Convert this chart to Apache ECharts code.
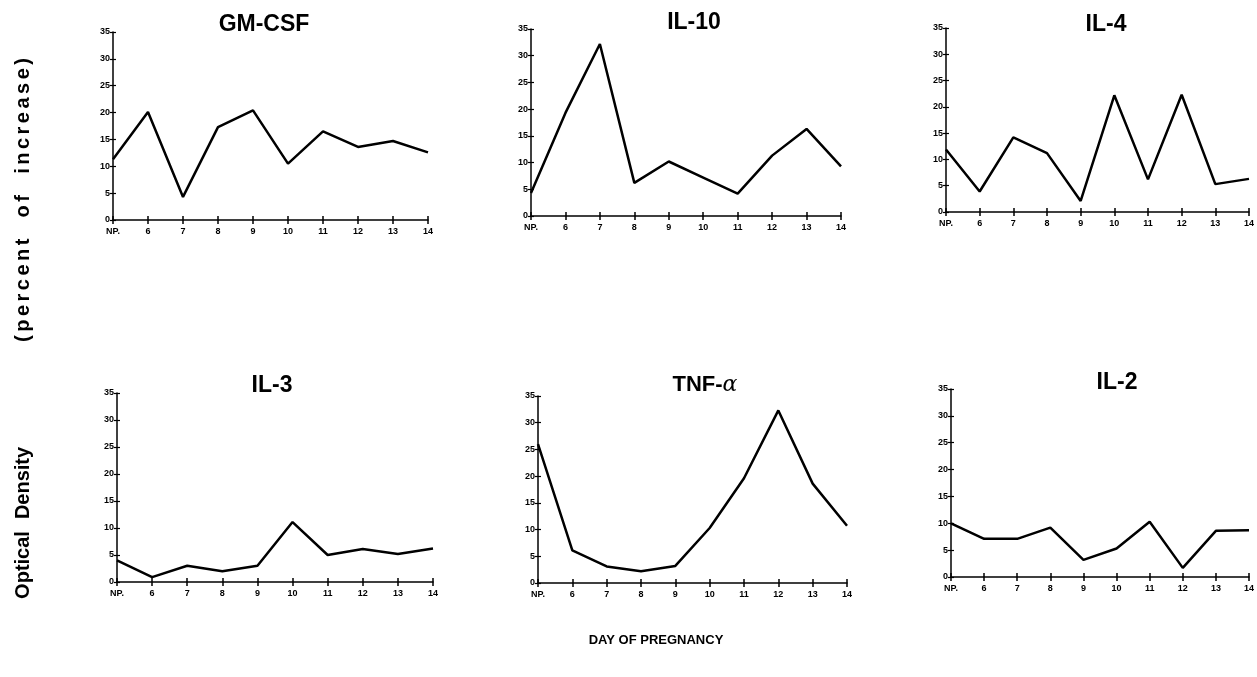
<!DOCTYPE html>
<html>
<head>
<meta charset="utf-8">
<script src="https://cdn.jsdelivr.net/npm/echarts@6/dist/echarts.min.js"></script>
<style>
html,body{margin:0;padding:0;background:#fff;}
#chart{width:1257px;height:677px;}
</style>
</head>
<body>
<div id="chart"></div>
<script>
// ---- data ----
const days = ['NP.', '6', '7', '8', '9', '10', '11', '12', '13', '14'];
const yTicks = [0, 5, 10, 15, 20, 25, 30, 35];
const panelTitles = ['GM-CSF', 'IL-10', 'IL-4', 'IL-3', 'TNF-α', 'IL-2'];
const gmcsf = [11.3, 20.1, 4.3, 17.3, 20.4, 10.5, 16.5, 13.6, 14.7, 12.6];
const il10  = [4.3, 19.3, 32.2, 6.2, 10.2, 7.2, 4.2, 11.3, 16.3, 9.3];
const il4   = [11.9, 3.9, 14.2, 11.2, 2.1, 22.2, 6.2, 22.3, 5.3, 6.3];
const il3   = [4.0, 0.9, 3.0, 2.0, 3.0, 11.1, 5.0, 6.1, 5.2, 6.2];
const tnf   = [26.0, 6.1, 3.1, 2.2, 3.2, 10.3, 19.6, 32.3, 18.6, 10.7];
const il2   = [10.0, 7.1, 7.1, 9.2, 3.2, 5.3, 10.3, 1.7, 8.6, 8.7];
const seriesData = [gmcsf, il10, il4, il3, tnf, il2];
const yTitleWords = ['Optical', 'Density', '(percent of increase)'];
const xTitle = 'DAY OF PREGNANCY';

// ---- layout ----
const grids = [
  {left: 113, top: 32, width: 315, height: 188},
  {left: 531, top: 29, width: 310, height: 187},
  {left: 946, top: 28, width: 306, height: 184},
  {left: 117, top: 393, width: 316, height: 189},
  {left: 538, top: 396, width: 309, height: 187},
  {left: 951, top: 389, width: 304, height: 188}
];
const titlePos = [[264, 25], [694, 23], [1106, 25], [272, 386], [705, 385], [1117, 383]];

const FONT = '"Liberation Sans", Arial, sans-serif';
const tickLabel = {fontFamily: FONT, fontWeight: 'bold', fontSize: 9, color: '#000'};

const xAxes = [], yAxes = [], series = [];
grids.forEach((g, i) => {
  const yMin = yTicks[0], yMax = yTicks[yTicks.length - 1], yInt = yTicks[1] - yTicks[0];
  xAxes.push({
    gridIndex: i, type: 'category', data: days, boundaryGap: false,
    axisLine: {lineStyle: {color: '#000', width: 1.5}},
    axisTick: {show: true, length: 4, lineStyle: {color: '#000', width: 1.5}, alignWithLabel: true},
    axisLabel: Object.assign({margin: 7, interval: 0}, tickLabel),
    splitLine: {show: false}
  });
  xAxes.push({
    gridIndex: i, type: 'category', data: days, boundaryGap: false, position: 'bottom',
    axisLine: {show: false},
    axisTick: {show: true, inside: true, length: 4, lineStyle: {color: '#000', width: 1.5}},
    axisLabel: {show: false}, splitLine: {show: false}
  });
  yAxes.push({
    gridIndex: i, type: 'value', min: yMin, max: yMax, interval: yInt,
    axisLine: {show: true, lineStyle: {color: '#000', width: 1.5}},
    axisTick: {show: true, length: 3, lineStyle: {color: '#000', width: 1.2}},
    axisLabel: Object.assign({margin: 3}, tickLabel),
    splitLine: {show: false}
  });
  yAxes.push({
    gridIndex: i, type: 'value', min: yMin, max: yMax, interval: yInt, position: 'left',
    axisLine: {show: false},
    axisTick: {show: true, inside: true, length: 3, lineStyle: {color: '#000', width: 1.2}},
    axisLabel: {show: false}, splitLine: {show: false}
  });
  series.push({
    type: 'line', xAxisIndex: i * 2, yAxisIndex: i * 2, data: seriesData[i],
    symbol: 'none', smooth: false, silent: true,
    lineStyle: {color: '#000', width: 2.5}
  });
});

const graphics = [];
panelTitles.forEach((t, i) => {
  const [x, y] = titlePos[i];
  if (t === 'TNF-α') {
    graphics.push({
      type: 'text', x: x, y: y,
      style: {
        text: '{a|TNF-}{b|α}', align: 'center', verticalAlign: 'middle',
        rich: {
          a: {fontFamily: FONT, fontWeight: 'bold', fontSize: 22, fill: '#000'},
          b: {fontFamily: '"DejaVu Serif", serif', fontStyle: 'italic', fontSize: 22, fill: '#000'}
        }
      }
    });
  } else {
    graphics.push({
      type: 'text', x: x, y: y,
      style: {text: t, align: 'center', verticalAlign: 'middle',
        font: 'bold 23px ' + FONT, fill: '#000'}
    });
  }
});

// y-axis title (rotated, reading bottom to top)
const yFont = 'bold 20px ' + FONT;
graphics.push({type: 'text', x: 23, y: 565, rotation: Math.PI / 2,
  style: {text: yTitleWords[0], align: 'center', verticalAlign: 'middle', font: yFont, fill: '#000'}});
graphics.push({type: 'text', x: 23, y: 483, rotation: Math.PI / 2,
  style: {text: yTitleWords[1], align: 'center', verticalAlign: 'middle', font: yFont, fill: '#000'}});
// parenthetical: letter gaps plus wider word gaps, spread from y=342 up to y=58
(function () {
  const txt = Array.from(yTitleWords[2]);
  const ctx = document.createElement('canvas').getContext('2d');
  ctx.font = yFont;
  const widths = txt.map(c => ctx.measureText(c).width);
  const letterGap = 3.5;
  const nSpaces = txt.filter(c => c === ' ').length;
  const start = 342, end = 58;
  const used = widths.reduce((a, b) => a + b, 0) + letterGap * (txt.length - 1);
  const extra = Math.max(0, ((start - end) - used) / nSpaces);
  let pos = start;
  txt.forEach((c, k) => {
    const w = widths[k];
    if (c !== ' ') {
      graphics.push({type: 'text', x: 23, y: pos - w / 2, rotation: Math.PI / 2,
        style: {text: c, align: 'center', verticalAlign: 'middle', font: yFont, fill: '#000'}});
    }
    let step = w + letterGap;
    if (c === ' ') step += extra;
    pos -= step;
  });
})();

graphics.push({
  type: 'text', x: 656, y: 640,
  style: {text: xTitle, align: 'center', verticalAlign: 'middle',
    font: 'bold 13px ' + FONT, fill: '#000'}
});

const chart = echarts.init(document.getElementById('chart'), null, {renderer: 'canvas'});
chart.setOption({
  backgroundColor: '#fff',
  animation: false,
  grid: grids.map(g => Object.assign({containLabel: false}, g)),
  xAxis: xAxes,
  yAxis: yAxes,
  series: series,
  graphic: graphics
});
</script>
</body>
</html>
